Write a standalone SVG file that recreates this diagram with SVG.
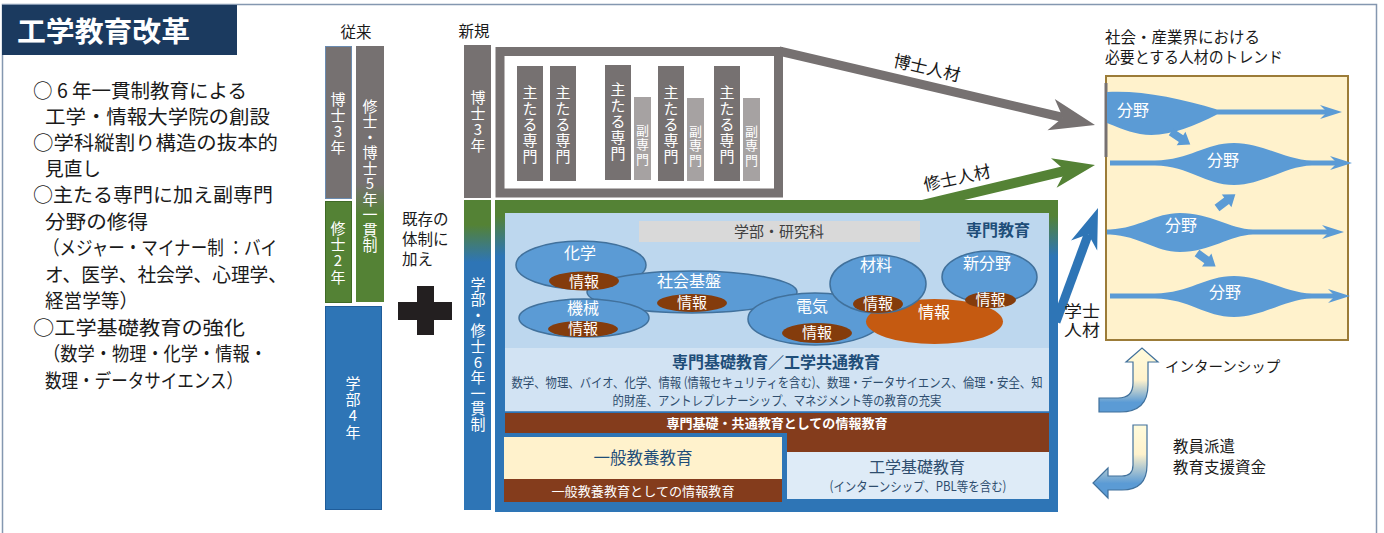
<svg xmlns="http://www.w3.org/2000/svg" width="1384" height="533" viewBox="0 0 1384 533">
<style>
text { font-family: "Noto Sans CJK JP", "Noto Sans", sans-serif; }
.lt { font-size:19.5px; fill:#1a1a1a; }
.hd { font-size:15.5px; fill:#1a1a1a; }
.vt { writing-mode:vertical-rl; text-orientation:upright; fill:#ffffff; font-size:15px; }
.vs { writing-mode:vertical-rl; text-orientation:upright; fill:#ffffff; font-size:13px; letter-spacing:1.5px; }
.el { fill:#5b9bd5; stroke:#41719c; stroke-width:1.5; }
.inf { fill:#843c0c; }
.elt { font-size:16px; fill:#ffffff; text-anchor:middle; }
.inft { font-size:15px; fill:#ffffff; text-anchor:middle; }
.flow { fill:#5b9bd5; }
.dk { fill:#1f4e79; }
.bt { fill:#2e4d6e; }
.gbar { fill:#767171; }
.lbar { fill:#a6a2a2; }
</style>
<defs>
<linearGradient id="gOld5" x1="0" y1="0" x2="0" y2="1">
<stop offset="0.54" stop-color="#767171"/><stop offset="0.66" stop-color="#548235"/>
</linearGradient>
<linearGradient id="gNew6" x1="0" y1="0" x2="0" y2="1">
<stop offset="0.08" stop-color="#548235"/><stop offset="0.2" stop-color="#2e75b6"/>
</linearGradient>
<linearGradient id="gFrame" x1="0" y1="0" x2="0" y2="1">
<stop offset="0.05" stop-color="#548235"/><stop offset="0.18" stop-color="#2e75b6"/>
</linearGradient>
<linearGradient id="gUp" gradientUnits="userSpaceOnUse" x1="0" y1="348" x2="0" y2="412">
<stop offset="0" stop-color="#fffbdc"/><stop offset="0.5" stop-color="#fff2cc"/><stop offset="0.85" stop-color="#5b9bd5"/>
</linearGradient>
<linearGradient id="gDown" gradientUnits="userSpaceOnUse" x1="0" y1="425" x2="0" y2="498">
<stop offset="0" stop-color="#fffbdc"/><stop offset="0.4" stop-color="#fff2cc"/><stop offset="0.8" stop-color="#5b9bd5"/>
</linearGradient>
<path id="smallArrow" d="M0,-4 L12,-4 L12,-8 L23,0 L12,8 L12,4 L0,4 Z"/>
</defs>

<rect x="0" y="0" width="1384" height="533" fill="#ffffff"/>
<rect x="2.5" y="4.5" width="1374" height="540" fill="none" stroke="#8497b0" stroke-width="1.5"/>

<g id="title">
<rect x="2" y="5" width="235" height="50" fill="#1b3a5f"/>
<text x="17" y="42" font-size="28" font-weight="bold" fill="#ffffff" textLength="173" lengthAdjust="spacingAndGlyphs">工学教育改革</text>
</g>

<g id="left-text">
<text class="lt" y="98"><tspan x="33">○</tspan><tspan x="57">6</tspan><tspan x="72">年一貫制教育による</tspan></text>
<text class="lt" x="45" y="124" textLength="225" lengthAdjust="spacingAndGlyphs">工学・情報大学院の創設</text>
<text class="lt" x="33" y="150" textLength="245" lengthAdjust="spacingAndGlyphs">○学科縦割り構造の抜本的</text>
<text class="lt" x="45" y="176" textLength="56" lengthAdjust="spacingAndGlyphs">見直し</text>
<text class="lt" x="33" y="202" textLength="240" lengthAdjust="spacingAndGlyphs">○主たる専門に加え副専門</text>
<text class="lt" x="45" y="229" textLength="103" lengthAdjust="spacingAndGlyphs">分野の修得</text>
<text class="lt" x="43" y="255" textLength="234" lengthAdjust="spacingAndGlyphs">（メジャー・マイナー制 ：バイ</text>
<text class="lt" x="45" y="282" textLength="242" lengthAdjust="spacingAndGlyphs">オ、医学、社会学、心理学、</text>
<text class="lt" x="45" y="308" textLength="93" lengthAdjust="spacingAndGlyphs">経営学等）</text>
<text class="lt" x="33" y="335" textLength="212" lengthAdjust="spacingAndGlyphs">○工学基礎教育の強化</text>
<text class="lt" x="43" y="361" textLength="224" lengthAdjust="spacingAndGlyphs">（数学・物理・化学・情報・</text>
<text class="lt" x="45" y="388" textLength="198" lengthAdjust="spacingAndGlyphs">数理・データサイエンス）</text>
</g>

<g id="old-system">
<text class="hd" x="356" y="38" text-anchor="middle" font-size="16">従来</text>
<rect x="325.5" y="46.5" width="26" height="152" fill="#767171" stroke="#6a8bb0" stroke-width="1"/>
<text class="vt" x="338" y="92" letter-spacing="1">博士3年</text>
<rect x="325.5" y="201.5" width="26" height="101" fill="#548235" stroke="#3f6a26" stroke-width="1"/>
<text class="vt" x="338" y="220.5" letter-spacing="1.3">修士2年</text>
<rect x="356" y="46" width="28" height="256" fill="url(#gOld5)"/>
<text class="vt" x="370" y="98.5" letter-spacing="0.5">修士・博士5年一貫制</text>
<rect x="325.5" y="306.5" width="56" height="203" fill="#2e75b6" stroke="#1f5c99" stroke-width="1"/>
<text class="vt" x="353" y="375.5" letter-spacing="1.3">学部4年</text>
</g>

<g id="plus">
<text class="hd" x="402" y="225">既存の</text>
<text class="hd" x="402" y="245">体制に</text>
<text class="hd" x="402" y="265">加え</text>
<rect x="398" y="302" width="54" height="18" fill="#231f20"/>
<rect x="417" y="286" width="17" height="49" fill="#231f20"/>
</g>

<g id="new-system">
<text class="hd" x="474" y="37" text-anchor="middle" font-size="16">新規</text>
<rect x="464" y="45" width="27" height="153" fill="#767171"/>
<text class="vt" x="478" y="90" letter-spacing="0.8">博士3年</text>
<rect x="464" y="200" width="27" height="310" fill="url(#gNew6)"/>
<text class="vt" x="478" y="276.5" letter-spacing="0.6">学部・修士6年一貫制</text>
</g>

<g id="connectors">
<line x1="779" y1="51" x2="1063" y2="117.5" stroke="#767171" stroke-width="9"/>
<polygon points="1095,125 1054.8,99.1 1062.9,117.5 1047.5,130.3" fill="#767171"/>
<text x="927" y="74" font-size="17" fill="#1a1a1a" text-anchor="middle" transform="rotate(13 927 68)">博士人材</text>
<line x1="922" y1="205" x2="1066" y2="170.7" stroke="#548235" stroke-width="10"/>
<polygon points="1095,165 1051,158.3 1065.5,170.7 1056.6,187.7" fill="#548235"/>
<text x="957" y="184" font-size="17" fill="#1a1a1a" text-anchor="middle" transform="rotate(-12 957 178)">修士人材</text>
<line x1="1056" y1="322" x2="1088.3" y2="234.2" stroke="#2e75b6" stroke-width="9"/>
<polygon points="1098,208 1071,240.6 1088.3,234.2 1097.2,250.4" fill="#2e75b6"/>
<text x="1064" y="317" font-size="16" fill="#1a1a1a" textLength="36" lengthAdjust="spacingAndGlyphs">学士</text>
<text x="1064" y="336" font-size="16" fill="#1a1a1a" textLength="36" lengthAdjust="spacingAndGlyphs">人材</text>
</g>

<g id="doctor-box">
<rect x="500" y="51.5" width="278.5" height="141.5" fill="#ffffff" stroke="#767171" stroke-width="9"/>
<rect class="gbar" x="517" y="66" width="26" height="115"/>
<text class="vt" x="530" y="84.5" letter-spacing="1">主たる専門</text>
<rect class="gbar" x="550" y="66" width="26" height="115"/>
<text class="vt" x="563" y="84.5" letter-spacing="1">主たる専門</text>
<rect class="gbar" x="605" y="65" width="26" height="115"/>
<text class="vt" x="618" y="81.5" letter-spacing="1">主たる専門</text>
<rect class="lbar" x="634" y="97" width="17" height="83"/>
<text class="vs" x="642.5" y="123.5">副専門</text>
<rect class="gbar" x="658" y="66" width="26" height="115"/>
<text class="vt" x="671" y="84.5" letter-spacing="1">主たる専門</text>
<rect class="lbar" x="687" y="98" width="17" height="83"/>
<text class="vs" x="695.5" y="124.5">副専門</text>
<rect class="gbar" x="714" y="66" width="26" height="115"/>
<text class="vt" x="727" y="84.5" letter-spacing="1">主たる専門</text>
<rect class="lbar" x="743" y="98" width="17" height="83"/>
<text class="vs" x="751.5" y="124.5">副専門</text>
</g>

<g id="main-box">
<rect x="495" y="200" width="563" height="312" fill="url(#gFrame)"/>
<rect x="505" y="213" width="544" height="135" fill="#bdd7ee"/>
<rect x="505" y="348" width="544" height="64" fill="#d2e3f3"/>
<rect x="639" y="221" width="281" height="21" fill="#d9d9d9"/>
<text x="779" y="237" font-size="15" fill="#404040" text-anchor="middle">学部・研究科</text>
<text x="998" y="236" font-size="16" font-weight="bold" class="dk" text-anchor="middle">専門教育</text>
</g>

<g id="field-chem">
<ellipse class="el" cx="581" cy="265" rx="65" ry="24"/>
<text class="elt" x="580" y="259">化学</text>
</g>
<g id="field-civil">
<ellipse class="el" cx="692" cy="292" rx="105" ry="21"/>
<ellipse class="inf" cx="692" cy="303" rx="35" ry="9"/>
<text class="elt" x="689" y="287">社会基盤</text>
<text class="inft" x="692" y="308">情報</text>
</g>
<g id="field-chem-info">
<ellipse class="inf" cx="584" cy="281" rx="35" ry="9.5"/>
<text class="inft" x="584" y="287">情報</text>
</g>
<g id="field-mech">
<ellipse class="el" cx="584" cy="318" rx="65" ry="19"/>
<ellipse class="inf" cx="583" cy="329" rx="35" ry="8"/>
<text class="elt" x="583" y="314">機械</text>
<text class="inft" x="583" y="334">情報</text>
</g>
<g id="field-elec">
<ellipse class="el" cx="815" cy="319" rx="67" ry="26"/>
<ellipse class="inf" cx="817" cy="333" rx="35" ry="10"/>
<text class="elt" x="812" y="312">電気</text>
<text class="inft" x="817" y="338">情報</text>
</g>
<g id="field-info">
<ellipse cx="934.5" cy="321.5" rx="68.5" ry="22.5" fill="#c55a11"/>
<text class="elt" x="934" y="318">情報</text>
</g>
<g id="field-material">
<ellipse class="el" cx="878" cy="284" rx="48" ry="29"/>
<ellipse class="inf" cx="878" cy="304" rx="25" ry="9"/>
<text class="elt" x="876" y="271">材料</text>
<text class="inft" x="878" y="309">情報</text>
</g>
<g id="field-new">
<ellipse class="el" cx="989.5" cy="277" rx="47.5" ry="26"/>
<ellipse class="inf" cx="990.5" cy="300" rx="25.5" ry="8"/>
<text class="elt" x="987" y="269">新分野</text>
<text class="inft" x="990.5" y="305">情報</text>
</g>

<g id="basic-common">
<text x="776" y="368" font-size="16" font-weight="bold" class="dk" text-anchor="middle">専門基礎教育／工学共通教育</text>
<text x="777" y="387" font-size="13" class="bt" text-anchor="middle" textLength="531" lengthAdjust="spacingAndGlyphs">数学、物理、バイオ、化学、情報 (情報セキュリティを含む)、数理・データサイエンス、倫理・安全、知</text>
<text x="777" y="405" font-size="13" class="bt" text-anchor="middle" textLength="329" lengthAdjust="spacingAndGlyphs">的財産、アントレプレナーシップ、マネジメント等の教育の充実</text>
<line x1="505" y1="412" x2="1049" y2="412" stroke="#2e75b6" stroke-width="1.5"/>
</g>

<g id="info-band">
<rect x="505" y="413" width="544" height="39" fill="#843c1c"/>
<text x="777" y="428" font-size="13" font-weight="bold" fill="#ffffff" text-anchor="middle" textLength="221" lengthAdjust="spacingAndGlyphs">専門基礎・共通教育としての情報教育</text>
</g>

<g id="general-edu">
<rect x="503" y="433" width="284" height="69" fill="#2e75b6"/>
<rect x="504" y="437" width="278" height="42" fill="#fff2cc"/>
<rect x="504" y="479" width="278" height="23" fill="#843c1c"/>
<text x="643" y="464" font-size="16.5" class="dk" text-anchor="middle">一般教養教育</text>
<text x="643" y="496" font-size="13" fill="#ffffff" text-anchor="middle" textLength="183" lengthAdjust="spacingAndGlyphs">一般教養教育としての情報教育</text>
</g>

<g id="eng-basic">
<rect x="787" y="452" width="262" height="47" fill="#deebf7"/>
<text x="917" y="473" font-size="16" class="bt" text-anchor="middle">工学基礎教育</text>
<text x="918" y="491" font-size="13" class="bt" text-anchor="middle" textLength="177" lengthAdjust="spacingAndGlyphs">(インターンシップ、PBL等を含む)</text>
</g>

<g id="trend">
<text class="hd" x="1105" y="43" textLength="155" lengthAdjust="spacingAndGlyphs">社会・産業界における</text>
<text class="hd" x="1105" y="63" textLength="178" lengthAdjust="spacingAndGlyphs">必要とする人材のトレンド</text>
<rect x="1106" y="76" width="242" height="264" fill="#fff2cc" stroke="#9c7c38" stroke-width="2"/>
<line x1="1106" y1="83" x2="1106" y2="157" stroke="#767171" stroke-width="3"/>

<path class="flow" d="M1107,92 C1140,90 1180,98 1217,109.5 L1328,109.5 L1328,114.5 L1217,114.5 C1190,128 1165,138 1140,134 C1125,131 1115,126 1107,123 Z"/>
<polygon class="flow" points="1342,112 1320,105 1327,112 1320,119"/>
<text class="elt" x="1133" y="116">分野</text>

<path class="flow" d="M1110,160.5 L1155,160.5 C1190,160 1205,143 1234,143 C1263,143 1285,160 1312,160.5 L1338,160.5 L1338,165.5 L1312,165.5 C1285,166 1263,185 1234,185 C1205,185 1190,166 1155,165.5 L1110,165.5 Z"/>
<polygon class="flow" points="1352,163 1330,156 1337,163 1330,170"/>
<text class="elt" x="1223" y="166">分野</text>

<path class="flow" d="M1107,229.5 L1110,229.5 C1140,228 1155,213 1180,213 C1210,213 1230,229 1253,229.5 L1330,229.5 L1330,234.5 L1253,234.5 C1230,235 1210,252 1180,252 C1155,252 1140,236 1110,234.5 L1107,234.5 Z"/>
<polygon class="flow" points="1344,232 1322,225 1329,232 1322,239"/>
<text class="elt" x="1181" y="231">分野</text>

<path class="flow" d="M1110,293.5 L1155,293.5 C1190,293 1205,276 1234,276 C1263,276 1285,293 1312,293.5 L1336,293.5 L1336,298.5 L1312,298.5 C1285,299 1263,317 1234,317 C1205,317 1190,299 1155,298.5 L1110,298.5 Z"/>
<polygon class="flow" points="1350,296 1328,289 1335,296 1328,303"/>
<text class="elt" x="1225" y="298">分野</text>

<use href="#smallArrow" class="flow" transform="translate(1171,132) rotate(33)"/>
<use href="#smallArrow" class="flow" transform="translate(1217,208) rotate(-37)"/>
<use href="#smallArrow" class="flow" transform="translate(1197,253) rotate(36)"/>
</g>

<g id="internship">
<path d="M1099,398 L1118,398 Q1133,398 1133,383 L1133,362 L1126,362 L1142,348 L1158,362 L1148,362 L1148,385 Q1148,412 1120,412 L1099,412 Z" fill="url(#gUp)" stroke="#41719c" stroke-width="1.2"/>
<text x="1165" y="372" font-size="14.5" fill="#1a1a1a">インターンシップ</text>
</g>

<g id="support">
<path d="M1133,425 L1147,425 L1147,465 Q1147,490 1122,490 L1108,490 L1108,498 L1093,483 L1108,468 L1108,476 L1122,476 Q1133,476 1133,465 Z" fill="url(#gDown)" stroke="#41719c" stroke-width="1.2"/>
<text x="1173" y="452" font-size="15.5" fill="#1a1a1a">教員派遣</text>
<text x="1173" y="473" font-size="15.5" fill="#1a1a1a">教育支援資金</text>
</g>
</svg>
